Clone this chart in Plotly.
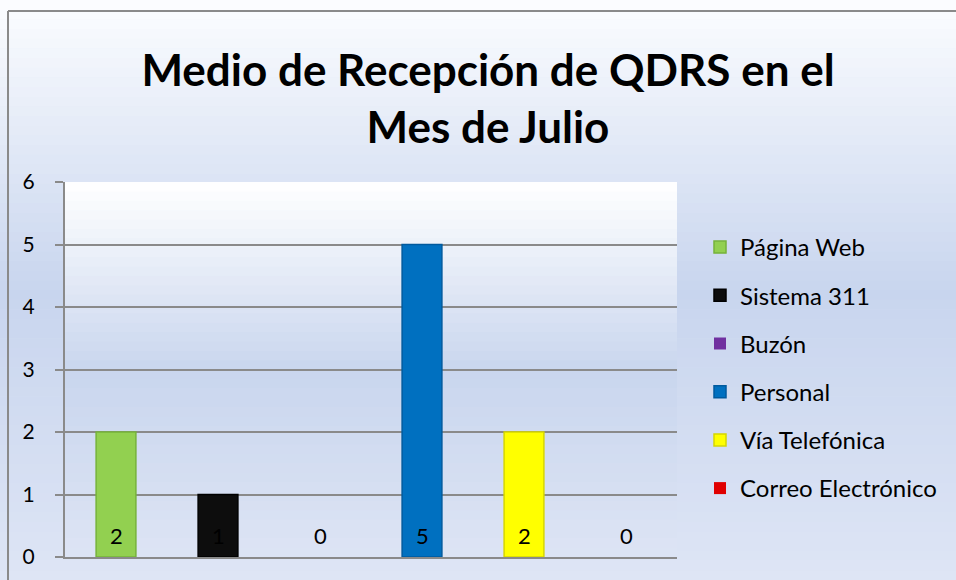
import plotly.graph_objects as go

series_names = ["Página Web", "Sistema 311", "Buzón", "Personal", "Vía Telefónica", "Correo Electrónico"]
series_values = [2, 1, 0, 5, 2, 0]
series_colors = ["#92D050", "#0D0D0D", "#7030A0", "#0070C0", "#FFFF00", "#E00000"]
edge_colors = ["#76B33A", "#000000", "#5A2585", "#005A9E", "#D6D600", "#B00000"]
title_text = "Medio de Recepción de QDRS en el<br>Mes de Julio"
y_ticks = [0, 1, 2, 3, 4, 5, 6]

W, H = 956, 580
ML, MR, MT, MB = 65, 279, 182, 23
PW, PH = W - ML - MR, H - MT - MB

FONT = "Lato, Calibri, 'Open Sans', sans-serif"

fig = go.Figure()
for i, (name, val) in enumerate(zip(series_names, series_values)):
    fig.add_trace(go.Bar(
        x=[i], y=[val], name=name, width=0.39,
        marker=dict(color=series_colors[i], line=dict(color=edge_colors[i], width=1.5 if val else 0)),
        legendgroup=name, hoverinfo="name+y",
    ))

annotations = []
for i, val in enumerate(series_values):
    annotations.append(dict(x=i, y=0, xref="x", yref="y", text=str(val), showarrow=False,
                            yanchor="middle", yshift=22, font=dict(size=22, color="#000000", family=FONT)))


def lerp(c1, c2, t):
    return tuple(round(a + (b - a) * t) for a, b in zip(c1, c2))


def grad(stops, t):
    for (t0, c0), (t1, c1) in zip(stops, stops[1:]):
        if t0 <= t <= t1:
            return lerp(c0, c1, (t - t0) / (t1 - t0) if t1 > t0 else 0)
    return stops[-1][1]


shapes = []
# outer background gradient (paper-level); paper y = (H - MB - ypx) / PH
outer_stops = [(0.0, (252, 253, 255)), (0.5, (200, 213, 238)), (1.0, (222, 229, 245))]
N = 60
for k in range(N):
    t = (k + 0.5) / N
    c = grad(outer_stops, t)
    y_top_px = k * H / N
    y_bot_px = (k + 1) * H / N + 0.5
    shapes.append(dict(type="rect", xref="paper", yref="paper", layer="below",
                       x0=-ML / PW, x1=(W - ML) / PW,
                       y0=(H - MB - y_bot_px) / PH, y1=(H - MB - y_top_px) / PH,
                       line=dict(width=0), fillcolor="rgb(%d,%d,%d)" % c))

# plot area gradient
plot_stops = [(0.0, (255, 255, 255)), (0.5, (201, 214, 238)), (1.0, (221, 228, 244))]
M = 40
for k in range(M):
    t = (k + 0.5) / M
    c = grad(plot_stops, t)
    shapes.append(dict(type="rect", xref="paper", yref="paper", layer="below",
                       x0=0, x1=1, y0=1 - (k + 1) / M - 0.002, y1=1 - k / M,
                       line=dict(width=0), fillcolor="rgb(%d,%d,%d)" % c))
# outer border (left and top)
shapes.append(dict(type="line", xref="paper", yref="paper", layer="above",
                   x0=(8 - ML) / PW, x1=(8 - ML) / PW, y0=(H - MB - 11) / PH, y1=-MB / PH - 0.05,
                   line=dict(color="#8A8A8A", width=2)))
shapes.append(dict(type="line", xref="paper", yref="paper", layer="above",
                   x0=(8 - ML) / PW, x1=(W - ML) / PW + 0.05, y0=(H - MB - 11) / PH, y1=(H - MB - 11) / PH,
                   line=dict(color="#8A8A8A", width=2)))

fig.update_layout(
    width=W, height=H,
    margin=dict(l=ML, r=MR, t=MT, b=MB, pad=0),
    paper_bgcolor="#DCE3F3", plot_bgcolor="rgba(0,0,0,0)",
    barmode="overlay",
    title=dict(text=title_text, x=488 / W, xanchor="center", y=1 - 86 / H, yanchor="middle",
               font=dict(family=FONT, size=44, color="#000000", weight="bold")),
    font=dict(family=FONT, color="#000000"),
    xaxis=dict(range=[-0.5, 5.5], showticklabels=False, ticks="", showgrid=False,
               showline=True, linecolor="#8A8A8A", linewidth=2, zeroline=False, fixedrange=True),
    yaxis=dict(range=[0, 6], tickvals=y_ticks, ticks="outside", ticklen=8, tickcolor="#8A8A8A", tickwidth=2,
               showgrid=True, gridcolor="#8A8A8A", gridwidth=2, showline=True, linecolor="#8A8A8A", linewidth=2,
               zeroline=False, tickfont=dict(size=21, family=FONT), ticklabelstandoff=16, fixedrange=True),
    legend=dict(x=(700 - ML) / PW, xanchor="left", y=(H - MB - 225) / PH, yanchor="top",
                bgcolor="rgba(0,0,0,0)", font=dict(size=24, family=FONT), traceorder="grouped",
                tracegroupgap=14, itemwidth=30),
    shapes=shapes,
    annotations=annotations,
    showlegend=True,
)

fig.write_html("out.html", config={"displayModeBar": False},
               post_script="document.body.style.margin='0';document.body.style.padding='0';")
